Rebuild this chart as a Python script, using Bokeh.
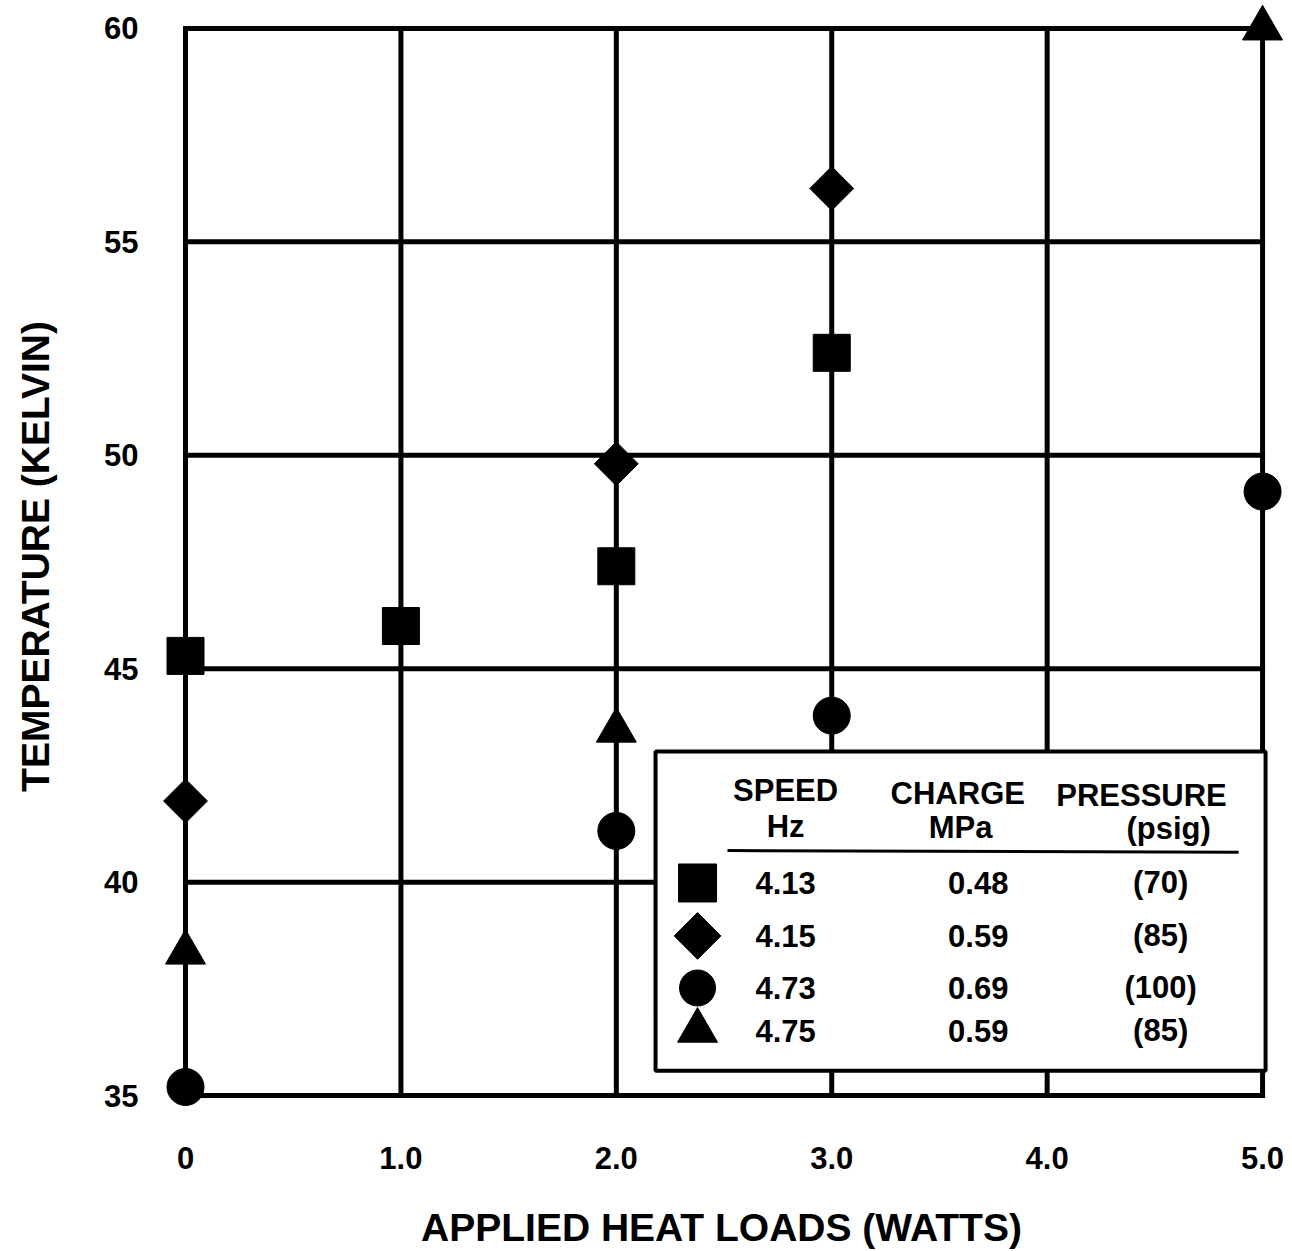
from bokeh.plotting import figure
from bokeh.models import FixedTicker, Range1d
from bokeh.core.properties import value
from bokeh.embed import file_html
from bokeh.resources import INLINE
import math

# ---- data ----
x_ticks = [0, 1, 2, 3, 4, 5]
x_tick_labels = ["0", "1.0", "2.0", "3.0", "4.0", "5.0"]
y_ticks = [35, 40, 45, 50, 55, 60]

sq_x = [0, 1, 2, 3]
sq_y = [45.3, 46.0, 47.4, 52.4]
di_x = [0, 2, 3]
di_y = [41.9, 49.8, 56.25]
ci_x = [0, 2, 3, 5]
ci_y = [35.2, 41.2, 43.9, 49.15]
tr_x = [0, 2, 5]
tr_y = [38.35, 43.55, 60.0]

speeds = ["4.13", "4.15", "4.73", "4.75"]
pressures_mpa = ["0.48", "0.59", "0.69", "0.59"]
pressures_psig = ["(70)", "(85)", "(100)", "(85)"]

FONT = "Liberation Sans"

p = figure(width=1292, height=1251, output_backend="svg", toolbar_location=None,
           x_range=Range1d(-0.1625, 5.139), y_range=Range1d(34.603, 60.654),
           min_border_left=150, min_border_right=0, min_border_top=0, min_border_bottom=136)
p.outline_line_color = None
p.xgrid.visible = False
p.ygrid.visible = False
p.background_fill_color = "white"
p.border_fill_color = "white"

# axes
for ax in (p.xaxis[0], p.yaxis[0]):
    ax.axis_line_color = None
    ax.major_tick_line_color = None
    ax.minor_tick_line_color = None
    ax.major_label_text_font = FONT
    ax.major_label_text_font_style = "bold"
    ax.major_label_text_font_size = "31px"
    ax.major_label_text_color = "black"
    ax.axis_label_text_font = FONT
    ax.axis_label_text_font_style = "bold"
    ax.axis_label_text_font_size = "39px"
    ax.axis_label_text_color = "black"

p.xaxis.ticker = FixedTicker(ticks=x_ticks)
p.xaxis.major_label_overrides = {t: l for t, l in zip(x_ticks, x_tick_labels)}
p.xaxis.major_label_standoff = 28
p.xaxis.axis_label = "APPLIED HEAT LOADS (WATTS)"
p.xaxis.axis_label_standoff = 34

p.yaxis.ticker = FixedTicker(ticks=y_ticks)
p.yaxis.major_label_standoff = 6
p.yaxis.axis_label = "TEMPERATURE (KELVIN)"
p.yaxis.axis_label_standoff = 44

# grid box
x0, x1 = x_ticks[0], x_ticks[-1]
y0, y1 = y_ticks[0], y_ticks[-1]
p.segment(x0=x_ticks, y0=[y0] * len(x_ticks), x1=x_ticks, y1=[y1] * len(x_ticks),
          line_color="black", line_width=5, line_cap="square")
p.segment(x0=[x0] * len(y_ticks), y0=y_ticks, x1=[x1] * len(y_ticks), y1=y_ticks,
          line_color="black", line_width=5, line_cap="square")

# legend panel (layout, data units)
lg_left, lg_right, lg_bottom, lg_top = 2.182, 5.014, 35.58, 43.06
p.quad(left=[lg_left], right=[lg_right], bottom=[lg_bottom], top=[lg_top],
       fill_color="white", line_color="black", line_width=4)

hdr = [("SPEED", 2.786, 42.15), ("Hz", 2.786, 41.31),
       ("CHARGE", 3.585, 42.08), ("MPa", 3.598, 41.28),
       ("PRESSURE", 4.438, 42.03), ("(psig)", 4.564, 41.26)]
p.text(x=[h[1] for h in hdr], y=[h[2] for h in hdr], text=[h[0] for h in hdr],
       text_font=value(FONT), text_font_style="bold", text_font_size="31px",
       text_align="center", text_baseline="middle", text_color="black")
p.segment(x0=[2.516], y0=[40.74], x1=[4.889], y1=[40.70], line_color="black", line_width=3)

row_y = [39.98, 38.74, 37.52, 36.52]
mk_x = 2.377
p.text(x=[2.786] * 4, y=row_y, text=speeds, text_font=value(FONT), text_font_style="bold",
       text_font_size="31px", text_align="center", text_baseline="middle", text_color="black")
p.text(x=[3.68] * 4, y=row_y, text=pressures_mpa, text_font=value(FONT), text_font_style="bold",
       text_font_size="31px", text_align="center", text_baseline="middle", text_color="black")
p.text(x=[4.527] * 4, y=row_y, text=pressures_psig, text_font=value(FONT), text_font_style="bold",
       text_font_size="31px", text_align="center", text_baseline="middle", text_color="black")

p.scatter(x=[mk_x], y=[row_y[0]], marker="square", size=38, color="black")
p.scatter(x=[mk_x], y=[row_y[1]], marker="square", size=33, angle=math.pi / 4, color="black")
p.scatter(x=[mk_x], y=[row_y[2]], marker="circle", size=36, color="black")
p.scatter(x=[mk_x], y=[row_y[3]], marker="triangle", size=40, color="black")

# data markers
p.scatter(x=sq_x, y=sq_y, marker="square", size=37, color="black")
p.scatter(x=di_x, y=di_y, marker="square", size=31, angle=math.pi / 4, color="black")
p.scatter(x=ci_x, y=ci_y, marker="circle", size=37, color="black")
p.scatter(x=tr_x, y=tr_y, marker="triangle", size=40, color="black")

open("out.html", "w").write(file_html(p, INLINE))
